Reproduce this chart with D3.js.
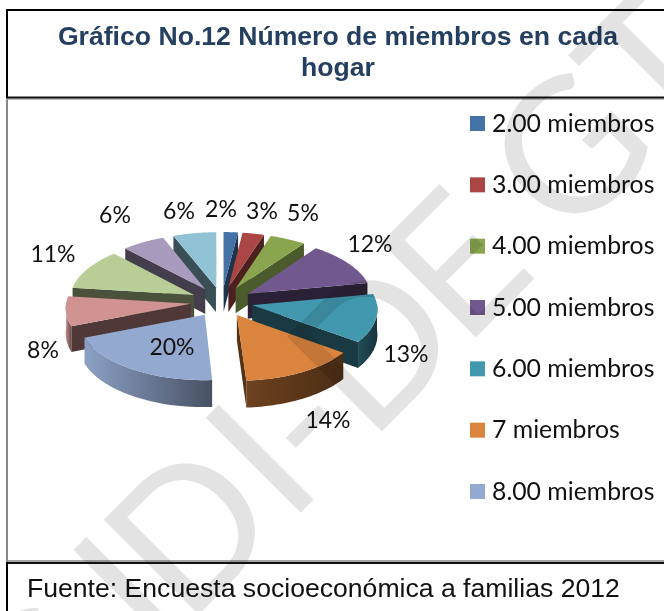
<!DOCTYPE html>
<html><head><meta charset="utf-8">
<style>html,body{margin:0;padding:0;background:#fff}svg{display:block}
.ar{font-family:'Liberation Sans',Arial,sans-serif}
.la{font-family:Lato,sans-serif}
.wm{mix-blend-mode:multiply}</style>
<script src="https://cdnjs.cloudflare.com/ajax/libs/d3/7.8.5/d3.min.js"></script>
</head><body><svg id="c" width="664" height="611"></svg>
<script>
const titleLines = ["Gráfico No.12 Número de miembros en cada", "hogar"];
const source = "Fuente: Encuesta socioeconómica a familias 2012";
const categories = ["2.00 miembros","3.00 miembros","4.00 miembros","5.00 miembros","6.00 miembros","7 miembros","8.00 miembros","9 miembros","10 miembros","11 miembros","12 miembros"];
const legendShown = 7;
const values = [2,3,5,12,13,14,20,8,11,6,6];
const labels = ["2%","3%","5%","12%","13%","14%","20%","8%","11%","6%","6%"];
const palette = ["#4572A7","#AA4643","#89A54E","#71588F","#4198AF","#DB843D","#93A9CF","#D19392","#B9CD96","#A99BBD","#91C3D5"];
const radialDark = [.55,.55,.45,.62,.62,.62,.5,.62,.6,.6,.6];
const labelPos = [[221,210],[262,212],[303,214],[370,245],[406,355],[328,421],[172,348],[43,351],[53,255],[115,216],[179,212]];
const wmText = "CIDI-DEGT";
const wmGlyphX = [-522,-354,-311,-167,-119,-52,81,228,360];

const svg = d3.select("#c");

const cx=221.7, cy=301.8, R=124.5, K=60, P=0.06, depth=25, explode=0.25;
const proj=(X,Z,down=0)=>{const w=1+P*Z;return [cx+R*X/w, cy-K*Z/w+down/w];};

const arcs=d3.pie().sort(null).startAngle(0).endAngle(2*Math.PI).value(d=>d)(values);
const line=d3.line();
const defs=svg.append("defs");

const slices=arcs.map((a,i)=>{
  const mid=(a.startAngle+a.endAngle)/2;
  const ox=explode*Math.sin(mid), oz=explode*Math.cos(mid);
  const ang=d3.range(0,33).map(k=>a.startAngle+(a.endAngle-a.startAngle)*k/32);
  const rim=ang.map(t=>[ox+Math.sin(t),oz+Math.cos(t)]);
  return {i,mid,ox,oz,ang,rim,z:oz};
});

const gPie=svg.append("g");
slices.slice().sort((a,b)=>b.z-a.z).forEach(s=>{
  const col=palette[s.i];
  const g=gPie.append("g");
  const apex=[s.ox,s.oz];
  const top=[apex,...s.rim].map(p=>proj(p[0],p[1]));
  const aS=proj(apex[0],apex[1]);
  const mS=proj(s.rim[16][0],s.rim[16][1]);
  [s.rim[0],s.rim[32]].forEach(e=>{
    const eS=proj(e[0],e[1]);
    const d=[eS[0]-aS[0],eS[1]-aS[1]], c=[mS[0]-aS[0],mS[1]-aS[1]];
    const f=(c[0]*d[0]+c[1]*d[1])/(d[0]*d[0]+d[1]*d[1]);
    const ny=-(c[1]-f*d[1]);
    if(ny>0){
      const poly=[aS,eS,proj(e[0],e[1],depth),proj(apex[0],apex[1],depth)];
      g.append("path").attr("d",line(poly)+"Z")
        .attr("fill",d3.interpolateRgb(col,"#000")(radialDark[s.i]));
    }
  });
  const front=s.rim.filter(p=>{const q=p[1]-s.oz;return q<=0.02;});
  if(front.length>1){
    const xs=front.map(p=>proj(p[0],p[1])[0]);
    const id="w"+s.i;
    const gr=defs.append("linearGradient").attr("id",id).attr("gradientUnits","userSpaceOnUse")
      .attr("x1",d3.min(xs)).attr("x2",d3.max(xs)).attr("y1",0).attr("y2",0);
    gr.append("stop").attr("offset","0").attr("stop-color",d3.interpolateRgb(col,"#000")(s.i>=6?.05:.5));
    gr.append("stop").attr("offset","1").attr("stop-color",d3.interpolateRgb(col,"#000")(s.i>=6?.52:.66));
    const poly=[...front.map(p=>proj(p[0],p[1])),...front.slice().reverse().map(p=>proj(p[0],p[1],depth))];
    g.append("path").attr("d",line(poly)+"Z").attr("fill",`url(#${id})`);
  }
  g.append("path").attr("d",line(top)+"Z").attr("fill",col);
});

svg.append("g").attr("class","la").selectAll("text").data(labels).join("text")
  .attr("x",(d,i)=>labelPos[i][0]).attr("y",(d,i)=>labelPos[i][1]+7)
  .attr("text-anchor","middle").attr("font-size",23).attr("fill","#111")
  .text(d=>d);

const legY=d3.scalePoint().domain(categories.slice(0,legendShown)).range([123,491]);
const leg=svg.append("g").selectAll("g").data(categories.slice(0,legendShown)).join("g")
  .attr("transform",d=>`translate(0,${legY(d)})`);
leg.append("rect").attr("x",470).attr("y",-7).attr("width",15).attr("height",15).attr("fill",(d,i)=>palette[i]);
leg.append("text").attr("class","la").attr("x",492).attr("y",8.5).attr("font-size",24.8).attr("fill","#111").text(d=>d);

const frame=svg.append("g");
const ln=(x1,y1,x2,y2,c,w)=>frame.append("line").attr("x1",x1).attr("y1",y1).attr("x2",x2).attr("y2",y2).attr("stroke",c).attr("stroke-width",w);
ln(7,98,7,562,"#888",2);
ln(7,99,664,99,"#aaa",1.5);
ln(7,561,664,561,"#888",1.5);
ln(6,10,664,10,"#000",2);
ln(7,10,7,98,"#000",2);
ln(7,97.5,664,97.5,"#111",2);
ln(7,563,664,563,"#111",2);
ln(7,562,7,611,"#000",2);

svg.append("g").attr("class","ar").selectAll("text").data(titleLines).join("text")
  .attr("x",338).attr("y",(d,i)=>45+i*31)
  .attr("text-anchor","middle").attr("font-weight","bold")
  .attr("font-size",26.6).attr("fill","#243F60").text(d=>d);
svg.append("text").attr("class","ar").attr("x",27).attr("y",597).attr("font-size",26.6).attr("fill","#111").text(source);

svg.append("text").attr("class","la wm").attr("transform","translate(406.5,406.5) rotate(-45)")
  .attr("x",wmGlyphX.join(" ")).attr("y",0)
  .attr("font-size",187).attr("fill","#E3E3E3").text(wmText);
</script></body></html>
